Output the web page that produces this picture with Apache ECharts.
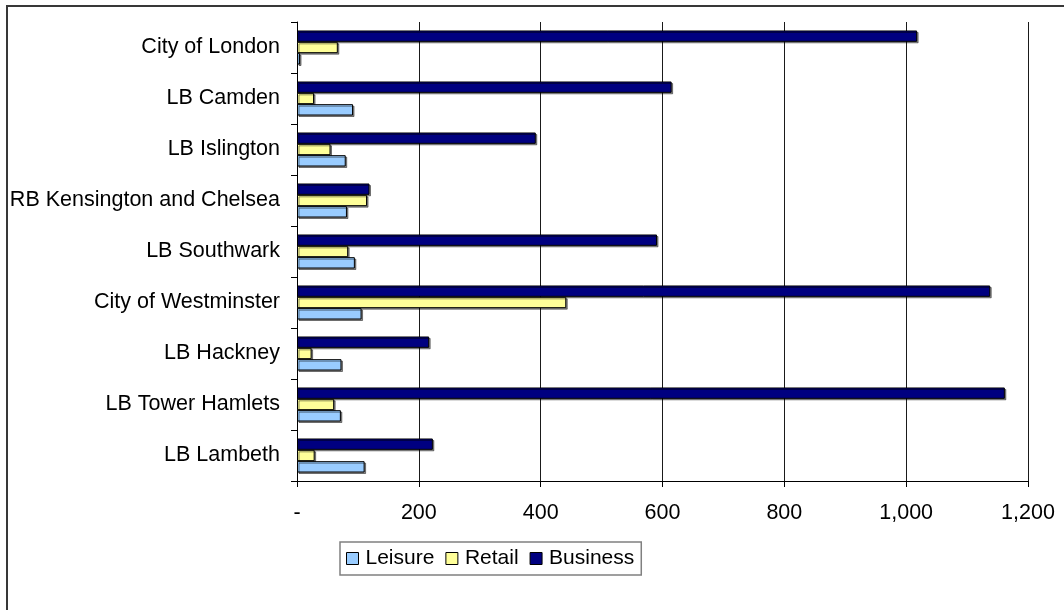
<!DOCTYPE html>
<html>
<head>
<meta charset="utf-8">
<title>Floorspace by borough</title>
<script src="https://cdn.jsdelivr.net/npm/echarts@6/dist/echarts.min.js"></script>
<style>
  html, body { margin: 0; padding: 0; background: #fff; }
  #chart { width: 1064px; height: 610px; }
</style>
</head>
<body>
<div id="chart"></div>
<script>
// Boroughs, listed top to bottom
const categories = [
  'City of London',
  'LB Camden',
  'LB Islington',
  'RB Kensington and Chelsea',
  'LB Southwark',
  'City of Westminster',
  'LB Hackney',
  'LB Tower Hamlets',
  'LB Lambeth'
];

// Values per borough for each use class
const leisure  = [5, 92, 80, 82, 95, 106, 73, 72, 111];
const retail   = [67, 28, 55, 115, 84, 442, 24, 61, 29];
const business = [1018, 615, 392, 119, 591, 1138, 217, 1162, 223];

// Value-axis tick labels (0 shown as a dash)
const xTickValues = [0, 200, 400, 600, 800, 1000, 1200];
const xTickLabels = ['-', '200', '400', '600', '800', '1,000', '1,200'];

const FONT = '"Liberation Sans", Arial, sans-serif';

const barStyle = (color) => ({
  color: color,
  borderColor: '#000',
  borderWidth: 1,
  shadowColor: 'rgba(0,0,0,0.45)',
  shadowOffsetX: 1.5,
  shadowOffsetY: 1.5,
  shadowBlur: 0
});

const chart = echarts.init(document.getElementById('chart'), null, { renderer: 'canvas' });

chart.setOption({
  animation: false,
  backgroundColor: '#fff',
  textStyle: { fontFamily: FONT },
  graphic: [{
    type: 'rect',
    silent: true,
    z: -10,
    shape: { x: 7, y: 6, width: 1100, height: 700 },
    style: { fill: 'none', stroke: '#383838', lineWidth: 2 }
  }],
  grid: { left: 297, right: 36, top: 22, bottom: 129 },
  legend: {
    data: ['Leisure', 'Retail', 'Business'],
    left: 340,
    top: 542,
    orient: 'horizontal',
    padding: [6, 7, 6, 6],
    itemWidth: 12,
    itemHeight: 12,
    itemGap: 11,
    icon: 'rect',
    borderColor: '#808080',
    borderWidth: 1.5,
    itemStyle: { borderColor: '#000', borderWidth: 1, shadowBlur: 0, shadowOffsetX: 0, shadowOffsetY: 0, shadowColor: 'transparent' },
    textStyle: { fontSize: 21, color: '#000', fontFamily: FONT, padding: [0, 0, 0, 2] }
  },
  xAxis: {
    type: 'value',
    min: 0,
    max: 1200,
    interval: 200,
    axisLine: { show: true, lineStyle: { color: '#000', width: 1 } },
    axisTick: { show: true, length: 6, lineStyle: { color: '#000' } },
    splitLine: { show: true, lineStyle: { color: '#1a1a1a', width: 1 } },
    axisLabel: {
      margin: 21,
      fontSize: 21.5,
      color: '#000',
      fontFamily: FONT,
      formatter: (v) => {
        const i = xTickValues.indexOf(v);
        return i >= 0 ? xTickLabels[i] : '';
      }
    }
  },
  yAxis: {
    type: 'category',
    data: categories,
    inverse: true,
    axisLine: { show: true, lineStyle: { color: '#000', width: 1 } },
    axisTick: { show: true, length: 6, alignWithLabel: false, lineStyle: { color: '#000' } },
    splitLine: { show: false },
    axisLabel: { margin: 17, fontSize: 21.5, color: '#000', fontFamily: FONT }
  },
  series: [
    { name: 'Business', type: 'bar', data: business, itemStyle: barStyle('#000080'), barGap: '0%', barCategoryGap: '33.3%' },
    { name: 'Retail',   type: 'bar', data: retail,   itemStyle: barStyle('#FFFF99'), barGap: '0%', barCategoryGap: '33.3%' },
    { name: 'Leisure',  type: 'bar', data: leisure,  itemStyle: barStyle('#99CCFF'), barGap: '0%', barCategoryGap: '33.3%' }
  ]
});
</script>
</body>
</html>
